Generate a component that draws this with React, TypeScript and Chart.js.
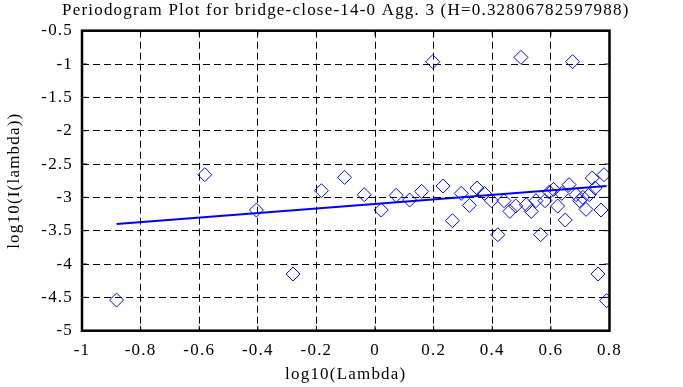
import React, { useEffect, useRef } from "react";
import { Chart, registerables } from "chart.js";

Chart.register(...registerables);

const TITLE = "Periodogram Plot for bridge-close-14-0 Agg. 3 (H=0.32806782597988)";
const X_LABEL = "log10(Lambda)";
const Y_LABEL = "log10(I(lambda))";

const logLambda = [
  -0.882, -0.581, -0.405, -0.28, -0.183, -0.104, -0.037, 0.021, 0.072, 0.118,
  0.159, 0.197, 0.232, 0.264, 0.294, 0.322, 0.348, 0.373, 0.397, 0.419,
  0.44, 0.46, 0.48, 0.498, 0.516, 0.533, 0.549, 0.565, 0.58, 0.595,
  0.609, 0.623, 0.637, 0.649, 0.662, 0.674, 0.686, 0.698, 0.709, 0.72,
  0.731, 0.741, 0.751, 0.761, 0.771, 0.781, 0.79,
];
const logI = [
  -4.54, -2.66, -3.19, -4.15, -2.9, -2.7, -2.96, -3.19, -2.97, -3.04,
  -2.91, -0.965, -2.83, -3.35, -2.94, -3.12, -2.86, -2.94, -3.05, -3.56,
  -3.05, -3.21, -3.13, -0.9, -3.11, -3.21, -3.05, -3.56, -3.05, -2.92,
  -2.88, -3.13, -2.94, -3.34, -2.81, -0.965, -2.96, -3.05, -3.0, -3.18,
  -2.96, -2.71, -2.86, -4.15, -3.19, -2.66, -4.55,
];
const fitX = [-0.882, 0.79];
const fitY = [-3.4, -2.83];

const FONT = "'Liberation Serif', 'Times New Roman', serif";
const SPACING = "1.2px";

export default function App() {
  const ref = useRef<HTMLCanvasElement | null>(null);

  useEffect(() => {
    document.body.style.margin = "0";
    const canvas = ref.current;
    if (!canvas) return;

    const spacing = {
      id: "spacing",
      beforeUpdate(chart: any) {
        chart.ctx.letterSpacing = SPACING;
      },
      beforeDraw(chart: any) {
        chart.ctx.letterSpacing = SPACING;
      },
    };

    const titlePlugin = {
      id: "titleText",
      afterDraw(chart: any) {
        const { ctx } = chart;
        ctx.save();
        ctx.letterSpacing = SPACING;
        ctx.font = `17px ${FONT}`;
        ctx.fillStyle = "#000";
        ctx.textAlign = "left";
        ctx.textBaseline = "alphabetic";
        ctx.fillText(TITLE, 62, 14.5);
        ctx.restore();
      },
    };

    const frame = {
      id: "frame",
      afterDatasetsDraw(chart: any) {
        const { ctx, chartArea: a, scales } = chart;
        ctx.save();
        ctx.strokeStyle = "#000";
        ctx.lineWidth = 1;
        const tl = 5;
        ctx.beginPath();
        for (const v of scales.x.ticks) {
          const px = scales.x.getPixelForValue(v.value);
          ctx.moveTo(px, a.top);
          ctx.lineTo(px, a.top + tl);
          ctx.moveTo(px, a.bottom);
          ctx.lineTo(px, a.bottom - tl);
        }
        for (const v of scales.y.ticks) {
          const py = scales.y.getPixelForValue(v.value);
          ctx.moveTo(a.left, py);
          ctx.lineTo(a.left + tl, py);
          ctx.moveTo(a.right, py);
          ctx.lineTo(a.right - tl, py);
        }
        ctx.stroke();
        ctx.lineWidth = 2.5;
        ctx.strokeRect(a.left, a.top, a.right - a.left, a.bottom - a.top);
        ctx.restore();
      },
    };

    const chart = new Chart(canvas, {
      type: "scatter",
      data: {
        datasets: [
          {
            type: "line",
            data: fitX.map((x, i) => ({ x, y: fitY[i] })),
            borderColor: "#0000ff",
            borderWidth: 2,
            pointRadius: 0,
            fill: false,
          } as any,
          {
            data: logLambda.map((x, i) => ({ x, y: logI[i] })),
            pointStyle: "rectRot",
            pointRadius: 7,
            borderColor: "#0000ff",
            backgroundColor: "rgba(0,0,0,0)",
            borderWidth: 1,
          },
        ],
      },
      options: {
        animation: false,
        responsive: false,
        layout: { padding: { left: 0, right: 73.5, top: 30.7, bottom: 0 } },
        plugins: {
          legend: { display: false },
          tooltip: { enabled: false },
          title: { display: false },
        },
        scales: {
          x: {
            type: "linear",
            min: -1,
            max: 0.8,
            ticks: {
              stepSize: 0.2,
              color: "#000",
              padding: 10,
              font: { family: FONT, size: 17 },
              callback: (v: any) => String(Math.round(Number(v) * 10) / 10),
            },
            grid: {
              color: "#000",
              lineWidth: 1,
              drawTicks: false,
            },
            border: { display: false, dash: [7, 4] },
            title: {
              display: true,
              text: X_LABEL,
              color: "#000",
              font: { family: FONT, size: 17, lineHeight: 1.2 },
              padding: { top: 0, bottom: 1.8 },
            },
            afterFit: (s: any) => {
              s.height = 56.3;
            },
          },
          y: {
            type: "linear",
            min: -5,
            max: -0.5,
            ticks: {
              stepSize: 0.5,
              color: "#000",
              padding: 9,
              font: { family: FONT, size: 17 },
              callback: (v: any) => String(Math.round(Number(v) * 10) / 10),
            },
            grid: {
              color: "#000",
              lineWidth: 1,
              drawTicks: false,
            },
            border: { display: false, dash: [7, 4] },
            title: {
              display: true,
              text: Y_LABEL,
              color: "#000",
              font: { family: FONT, size: 17, lineHeight: 1.2 },
              padding: { top: 4.8, bottom: 0 },
            },
            afterFit: (s: any) => {
              s.width = 82;
            },
          },
        },
      },
      plugins: [spacing, frame, titlePlugin],
    } as any);

    return () => chart.destroy();
  }, []);

  return (
    <div style={{ width: 683, height: 387, background: "#fff" }}>
      <canvas ref={ref} width={683} height={387} />
    </div>
  );
}
